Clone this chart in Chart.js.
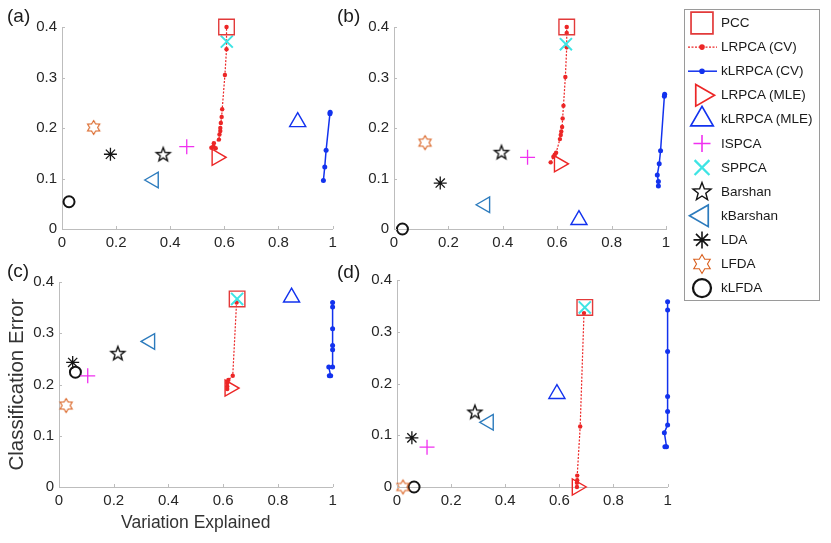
<!DOCTYPE html>
<html>
<head>
    <title>Classification Error vs Variation Explained</title>
    <script src="https://cdn.jsdelivr.net/npm/chart.js"></script>
    <style>
        body { margin: 0; background: #fff; font-family: 'Liberation Sans', Arial, sans-serif; }
        #wrap { position: relative; width: 831px; height: 543px; overflow: hidden; }
        canvas { position: absolute; }
        .tag { position: absolute; font-size: 19px; line-height: 1; color: #1a1a1a; }
        #legendBox { position: absolute; left: 684px; top: 9px; width: 134px; height: 290px; border: 1px solid #9a9a9a; }
        .lg { position: absolute; left: 721px; font-size: 13.5px; line-height: 16px; color: #1a1a1a; white-space: nowrap; }
    </style>
</head>
<body>
<div id="wrap">
    <canvas id="chartA" width="345" height="250" style="left:0;top:0"></canvas>
    <canvas id="chartB" width="340" height="250" style="left:340px;top:0"></canvas>
    <canvas id="chartC" width="345" height="293" style="left:0;top:250px"></canvas>
    <canvas id="chartD" width="340" height="293" style="left:340px;top:250px"></canvas>
    <div class="tag" style="left:7px;top:6px">(a)</div>
    <div class="tag" style="left:337px;top:6px">(b)</div>
    <div class="tag" style="left:7px;top:261px">(c)</div>
    <div class="tag" style="left:337px;top:262px">(d)</div>
    <div id="legendBox"></div>
    <canvas id="legendIcons" width="136" height="292" style="left:684px;top:9px"></canvas>
</div>

<script>
    // legend order
    const legendNames = ['PCC', 'LRPCA (CV)', 'kLRPCA (CV)', 'LRPCA (MLE)', 'kLRPCA (MLE)', 'ISPCA',
        'SPPCA', 'Barshan', 'kBarshan', 'LDA', 'LFDA', 'kLFDA'];

    // methods that give a single point per panel, same order as the x/y arrays below
    const markerMethods = ['PCC', 'LRPCA (MLE)', 'kLRPCA (MLE)', 'ISPCA', 'SPPCA', 'Barshan', 'kBarshan', 'LDA', 'LFDA', 'kLFDA'];

    const xTicks = [0, 0.2, 0.4, 0.6, 0.8, 1];
    const yTicks = [0, 0.1, 0.2, 0.3, 0.4];

    // (a)
    const aX = [0.608, 0.572, 0.871, 0.461, 0.609, 0.374, 0.339, 0.179, 0.117, 0.026];
    const aY = [0.400, 0.142, 0.212, 0.163, 0.371, 0.147, 0.097, 0.148, 0.201, 0.054];
    const aLrX = [0.552, 0.559, 0.568, 0.561, 0.580, 0.582, 0.585, 0.585, 0.587, 0.590, 0.592, 0.602, 0.608, 0.608];
    const aLrY = [0.161, 0.163, 0.160, 0.170, 0.177, 0.187, 0.194, 0.200, 0.210, 0.222, 0.237, 0.305, 0.356, 0.400];
    const aKlX = [0.966, 0.971, 0.976, 0.990, 0.991];
    const aKlY = [0.096, 0.123, 0.156, 0.228, 0.231];

    // (b)
    const bX = [0.635, 0.607, 0.680, 0.491, 0.632, 0.395, 0.335, 0.170, 0.114, 0.031];
    const bY = [0.400, 0.129, 0.018, 0.142, 0.366, 0.151, 0.048, 0.091, 0.171, 0.000];
    const bLrX = [0.576, 0.586, 0.591, 0.596, 0.610, 0.613, 0.615, 0.618, 0.620, 0.623, 0.630, 0.635, 0.635, 0.635];
    const bLrY = [0.132, 0.143, 0.147, 0.151, 0.178, 0.186, 0.193, 0.202, 0.219, 0.244, 0.301, 0.360, 0.388, 0.400];
    const bKlX = [0.972, 0.972, 0.968, 0.975, 0.980, 0.994, 0.995];
    const bKlY = [0.085, 0.094, 0.107, 0.129, 0.155, 0.263, 0.267];

    // (c)
    const cX = [0.651, 0.624, 0.850, 0.105, 0.651, 0.215, 0.333, 0.050, 0.026, 0.060];
    const cY = [0.367, 0.193, 0.370, 0.217, 0.367, 0.260, 0.284, 0.243, 0.159, 0.224];
    const cLrX = [0.615, 0.615, 0.615, 0.619, 0.635, 0.649];
    const cLrY = [0.191, 0.196, 0.203, 0.209, 0.217, 0.360];
    const cKlX = [0.988, 0.993, 0.986, 1.000, 1.000, 1.000, 1.000, 1.000, 1.000];
    const cKlY = [0.217, 0.217, 0.234, 0.234, 0.268, 0.276, 0.309, 0.351, 0.360];

    // (d)
    const dX = [0.694, 0.665, 0.591, 0.111, 0.694, 0.288, 0.339, 0.055, 0.022, 0.063];
    const dY = [0.347, 0.000, 0.180, 0.077, 0.347, 0.144, 0.125, 0.095, 0.000, 0.000];
    const dLrX = [0.665, 0.665, 0.666, 0.666, 0.677, 0.691];
    const dLrY = [0.000, 0.008, 0.013, 0.022, 0.117, 0.336];
    const dKlX = [0.990, 0.996, 0.988, 1.000, 1.000, 1.000, 1.000, 1.000, 1.000];
    const dKlY = [0.078, 0.078, 0.105, 0.120, 0.146, 0.175, 0.262, 0.342, 0.358];

    const RED = '#ec2626', BLUE = '#1232ee', MAG = '#f030f0', CYAN = '#3ee4e4',
        ORANGE = '#d9601f', STEEL = '#2c7bbd', BLACK = '#141414', AXIS = '#bdbdbd';

    // marker look: plot radius r, legend radius lr
    const styles = {
        'PCC':          { style: 'rect', r: 11, lr: 15.5, color: '#e23a3a', lw: 1.4 },
        'LRPCA (MLE)':  { style: 'triangle', rot: 90, r: 9.3, lr: 12.5, color: RED, lw: 1.4 },
        'kLRPCA (MLE)': { style: 'triangle', r: 9.3, lr: 13, color: BLUE, lw: 1.4 },
        'ISPCA':        { style: 'cross', r: 7.5, lr: 8.5, color: MAG, lw: 1.3 },
        'SPPCA':        { style: 'crossRot', r: 8.5, lr: 10.5, color: CYAN, lw: 2 },
        'Barshan':      { style: 'star5', r: 7.3, lr: 9.5, color: BLACK, lw: 1.4 },
        'kBarshan':     { style: 'triangle', rot: -90, r: 9, lr: 12.5, color: STEEL, lw: 1.4 },
        'LDA':          { style: 'star', r: 6.5, lr: 8.5, color: BLACK, lw: 1.3 },
        'LFDA':         { style: 'hexagram', r: 7, lr: 9.5, color: ORANGE, lw: 1.1 },
        'kLFDA':        { style: 'circle', r: 5.5, lr: 9, color: BLACK, lw: 2 }
    };

    function starImage(R, innerRatio, tips, color, lw) {
        const size = Math.ceil(2 * R + 2 * lw + 2);
        const c = document.createElement('canvas');
        c.width = size; c.height = size;
        const g = c.getContext('2d');
        g.strokeStyle = color; g.lineWidth = lw; g.lineJoin = 'miter';
        g.beginPath();
        for (let k = 0; k < tips * 2; k++) {
            const a = -Math.PI / 2 + k * Math.PI / tips;
            const rr = k % 2 === 0 ? R : R * innerRatio;
            const px = size / 2 + rr * Math.cos(a), py = size / 2 + rr * Math.sin(a);
            if (k === 0) g.moveTo(px, py); else g.lineTo(px, py);
        }
        g.closePath();
        g.stroke();
        return c;
    }

    function pointStyleFor(s, r) {
        if (s.style === 'star5') return starImage(r, 0.42, 5, s.color, s.lw);
        if (s.style === 'hexagram') return starImage(r, 0.577, 6, s.color, s.lw);
        return s.style;
    }

    const zip = (xs, ys) => xs.map((x, i) => ({ x: x, y: ys[i] }));
    const tickText = v => String(+(+v).toFixed(2));

    Chart.defaults.font.family = "'Liberation Sans', Arial, sans-serif";
    Chart.defaults.color = '#262626';

    // small inward tick marks like the original axes
    const innerTicks = {
        id: 'innerTicks',
        afterDatasetsDraw(chart) {
            const ctx = chart.ctx, x = chart.scales.x, y = chart.scales.y;
            ctx.save();
            ctx.strokeStyle = AXIS; ctx.lineWidth = 1;
            ctx.beginPath();
            x.ticks.forEach(t => {
                const px = Math.round(x.getPixelForValue(t.value)) + 0.5;
                ctx.moveTo(px, y.bottom); ctx.lineTo(px, y.bottom - 3);
            });
            y.ticks.forEach(t => {
                const py = Math.round(y.getPixelForValue(t.value)) + 0.5;
                ctx.moveTo(x.left, py); ctx.lineTo(x.left + 3, py);
            });
            ctx.stroke();
            ctx.restore();
        }
    };

    function panel(id, mX, mY, lrX, lrY, klX, klY, box) {
        const datasets = [];
        markerMethods.forEach((m, i) => {
            const s = styles[m];
            datasets.push({
                label: m,
                data: [{ x: mX[i], y: mY[i] }],
                pointStyle: pointStyleFor(s, s.r),
                rotation: s.rot || 0,
                pointRadius: s.r,
                pointBorderColor: s.color,
                pointBackgroundColor: 'rgba(0,0,0,0)',
                pointBorderWidth: s.lw,
                clip: false
            });
        });
        datasets.push({
            label: 'LRPCA (CV)',
            data: zip(lrX, lrY),
            showLine: true,
            borderColor: RED,
            borderWidth: 1.2,
            borderDash: [2, 1.5],
            pointRadius: 2.2,
            pointBorderWidth: 0,
            pointBackgroundColor: RED,
            pointBorderColor: RED,
            clip: false
        });
        datasets.push({
            label: 'kLRPCA (CV)',
            data: zip(klX, klY),
            showLine: true,
            borderColor: BLUE,
            borderWidth: 1.5,
            pointRadius: 2.5,
            pointBorderWidth: 0,
            pointBackgroundColor: BLUE,
            pointBorderColor: BLUE,
            clip: false
        });

        new Chart(document.getElementById(id), {
            type: 'scatter',
            data: { datasets },
            plugins: [innerTicks],
            options: {
                responsive: false,
                animation: false,
                devicePixelRatio: 1,
                layout: { padding: { left: 0, top: box.top, right: box.right, bottom: 0 } },
                plugins: { legend: { display: false }, tooltip: { enabled: false } },
                scales: {
                    x: {
                        type: 'linear', min: 0, max: 1,
                        afterBuildTicks: s => { s.ticks = xTicks.map(v => ({ value: v })); },
                        afterFit: s => { s.height = box.xh; },
                        grid: { display: false, drawTicks: false },
                        border: { display: true, color: AXIS, width: 1 },
                        ticks: { font: { size: 15 }, color: '#262626', padding: 5, maxRotation: 0, callback: tickText },
                        title: {
                            display: !!box.xTitle, text: box.xTitle || '',
                            font: { size: 17.5 }, color: '#333', padding: { top: 0, bottom: 9 }
                        }
                    },
                    y: {
                        type: 'linear', min: 0, max: 0.4,
                        afterBuildTicks: s => { s.ticks = yTicks.map(v => ({ value: v })); },
                        afterFit: s => { s.width = box.yw; },
                        grid: { display: false, drawTicks: false },
                        border: { display: true, color: AXIS, width: 1 },
                        ticks: { font: { size: 15 }, color: '#262626', padding: 5, callback: tickText },
                        title: {
                            display: !!box.yTitle, text: box.yTitle || '',
                            font: { size: 20.5 }, color: '#333', padding: { top: 5, bottom: 0 }
                        }
                    }
                }
            }
        });
    }

    panel('chartA', aX, aY, aLrX, aLrY, aKlX, aKlY, { top: 27, right: 10.5, xh: 21, yw: 62 });
    panel('chartB', bX, bY, bLrX, bLrY, bKlX, bKlY, { top: 27, right: 14, xh: 21, yw: 54 });
    panel('chartC', cX, cY, cLrX, cLrY, cKlX, cKlY,
        { top: 32, right: 8, xh: 56, yw: 59, xTitle: 'Variation Explained', yTitle: 'Classification Error' });
    panel('chartD', dX, dY, dLrX, dLrY, dKlX, dKlY, { top: 30, right: 4, xh: 56, yw: 57 });

    // legend: icons on a small canvas, names as real text
    const lc = document.getElementById('legendIcons');
    const lctx = lc.getContext('2d');
    const wrap = document.getElementById('wrap');
    legendNames.forEach((name, i) => {
        const cyPage = 23 + 24.1 * i;
        const cx = 702 - 684, cy = cyPage - 9;
        if (name === 'LRPCA (CV)' || name === 'kLRPCA (CV)') {
            const col = name === 'LRPCA (CV)' ? RED : BLUE;
            lctx.save();
            lctx.strokeStyle = col; lctx.lineWidth = name === 'LRPCA (CV)' ? 1.2 : 1.5;
            if (name === 'LRPCA (CV)') lctx.setLineDash([2, 1.5]);
            lctx.beginPath(); lctx.moveTo(688 - 684, cy); lctx.lineTo(717 - 684, cy); lctx.stroke();
            lctx.setLineDash([]);
            lctx.fillStyle = col;
            lctx.beginPath(); lctx.arc(cx, cy, 2.8, 0, Math.PI * 2); lctx.fill();
            lctx.restore();
        } else {
            const s = styles[name];
            const ps = pointStyleFor(s, s.lr);
            lctx.save();
            if (typeof ps === 'string') {
                lctx.strokeStyle = s.color;
                lctx.fillStyle = 'rgba(0,0,0,0)';
                lctx.lineWidth = s.lw + 0.3;
                Chart.helpers.drawPoint(lctx, { pointStyle: ps, rotation: s.rot || 0, radius: s.lr, borderWidth: s.lw + 0.3 }, cx, cy);
            } else {
                lctx.drawImage(ps, Math.round(cx - ps.width / 2), Math.round(cy - ps.height / 2));
            }
            lctx.restore();
        }
        const t = document.createElement('div');
        t.className = 'lg';
        t.style.top = (cyPage - 8) + 'px';
        t.textContent = name;
        wrap.appendChild(t);
    });
</script>
</body>
</html>
